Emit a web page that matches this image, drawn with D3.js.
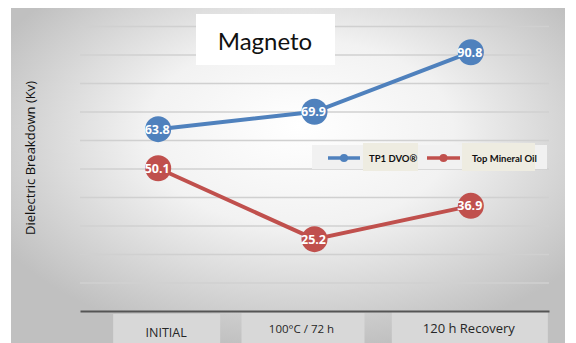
<!DOCTYPE html>
<html>
<head>
<meta charset="utf-8">
<script src="https://cdn.jsdelivr.net/npm/d3@7"></script>
<style>
  html, body { margin: 0; padding: 0; background: #ffffff; }
  svg { display: block; }
</style>
</head>
<body>
<svg id="chart" width="576" height="343"></svg>
<script>
// Chart data
const categories = ["INITIAL", "100°C / 72 h", "120 h Recovery"];
const seriesNames = ["TP1 DVO®", "Top Mineral Oil"];
const tp1Values = [63.8, 69.9, 90.8];
const mineralValues = [50.1, 25.2, 36.9];
const gridTicks = [0, 10, 20, 30, 40, 50, 60, 70, 80, 90, 100];

const colors = { "TP1 DVO®": "#4f81bd", "Top Mineral Oil": "#c0504d" };
const series = [
  { name: seriesNames[0], values: tp1Values },
  { name: seriesNames[1], values: mineralValues }
];

const svg = d3.select("#chart");
const W = 576, H = 343;
const plot = { left: 80, right: 549, top: 26, bottom: 311 };
const font = "Lato, 'Open Sans', sans-serif";
const sans = "'Open Sans', Lato, sans-serif";

// Panel background with soft radial shading
const defs = svg.append("defs");
const rg = defs.append("radialGradient")
  .attr("id", "bg").attr("cx", "52%").attr("cy", "40%").attr("r", "62%")
  .attr("fx", "52%").attr("fy", "35%");
rg.append("stop").attr("offset", "0%").attr("stop-color", "#ffffff");
rg.append("stop").attr("offset", "45%").attr("stop-color", "#f2f2f2");
rg.append("stop").attr("offset", "100%").attr("stop-color", "#c0c0c0");

svg.append("rect").attr("x", 11).attr("y", 8).attr("width", 554).attr("height", H - 8)
  .attr("fill", "url(#bg)");

// Scales
const x = d3.scaleBand().domain(categories).range([plot.left, plot.right]);
const y = d3.scaleLinear().domain([0, 100]).range([plot.bottom, plot.top]);
const cx = d => x(d) + x.bandwidth() / 2;

// Horizontal gridlines
svg.append("g")
  .attr("transform", `translate(${plot.left},0)`)
  .call(d3.axisLeft(y).tickValues(gridTicks.slice(1)).tickSize(-(plot.right - plot.left)).tickFormat(""))
  .call(g => g.select(".domain").remove())
  .call(g => g.selectAll("line").attr("stroke", "#d0d0d0").attr("stroke-width", 1.5));

// Category label boxes beneath the axis
const boxSpec = [
  { dx: -45, w: 107, top: 314 },
  { dx: -73, w: 123, top: 313 },
  { dx: -79, w: 156, top: 312 }
];
const catG = svg.append("g");
categories.forEach((c, i) => {
  const b = boxSpec[i];
  catG.append("rect").attr("x", cx(c) + b.dx).attr("y", b.top)
    .attr("width", b.w).attr("height", H - b.top).attr("fill", "#d8d8d8");
});
const labelDx = [8, -13, -2];
const labelY = [337, 333, 333];
const labelSize = [12.5, 11.5, 13];
categories.forEach((c, i) => {
  catG.append("text").attr("x", cx(c) + labelDx[i]).attr("y", labelY[i])
    .attr("text-anchor", "middle").attr("font-family", sans)
    .attr("font-size", labelSize[i]).attr("fill", "#262626").text(c);
});

// Horizontal axis line
svg.append("g")
  .attr("transform", `translate(0,${plot.bottom})`)
  .call(d3.axisBottom(x).tickSize(0).tickFormat(""))
  .call(g => g.select(".domain").attr("stroke", "#555555").attr("stroke-width", 2));

// Y axis title
svg.append("text")
  .attr("transform", `translate(35,158) rotate(-90)`)
  .attr("text-anchor", "middle").attr("font-family", sans)
  .attr("font-size", 13).attr("fill", "#111").text("Dielectric Breakdown (Kv)");

// Title box
svg.append("rect").attr("x", 196).attr("y", 14).attr("width", 139).attr("height", 51).attr("fill", "#ffffff");
svg.append("text").attr("x", 265).attr("y", 50).attr("text-anchor", "middle")
  .attr("font-family", font).attr("font-size", 24).attr("fill", "#111").text("Magneto");

// Legend
const lg = svg.append("g");
lg.append("rect").attr("x", 312).attr("y", 145).attr("width", 235).attr("height", 24).attr("fill", "#f1f1f1");
lg.append("rect").attr("x", 363).attr("y", 143).attr("width", 55).attr("height", 28).attr("fill", "#eeece1");
lg.append("rect").attr("x", 462).attr("y", 143).attr("width", 73).attr("height", 28).attr("fill", "#eeece1");
const legendItems = [
  { name: seriesNames[0], x1: 328, x2: 360, tx: 369 },
  { name: seriesNames[1], x1: 427, x2: 460, tx: 472 }
];
legendItems.forEach(it => {
  lg.append("line").attr("x1", it.x1).attr("x2", it.x2).attr("y1", 158).attr("y2", 158)
    .attr("stroke", colors[it.name]).attr("stroke-width", 3.5);
  lg.append("circle").attr("cx", (it.x1 + it.x2) / 2).attr("cy", 158).attr("r", 4)
    .attr("fill", colors[it.name]);
  lg.append("text").attr("x", it.tx).attr("y", 161.5).attr("font-family", font)
    .attr("font-weight", "bold").attr("font-size", 9.5).attr("fill", "#111").text(it.name);
});

// Series lines and markers
const line = d3.line().x((d, i) => cx(categories[i])).y(d => y(d));
series.forEach(s => {
  const g = svg.append("g");
  g.append("path").datum(s.values).attr("d", line).attr("fill", "none")
    .attr("stroke", colors[s.name]).attr("stroke-width", 4);
  g.selectAll("circle").data(s.values).join("circle")
    .attr("cx", (d, i) => cx(categories[i])).attr("cy", d => y(d)).attr("r", 13)
    .attr("fill", colors[s.name]);
  g.selectAll("text").data(s.values).join("text")
    .attr("x", (d, i) => cx(categories[i]) - 1).attr("y", d => y(d) + 4.5)
    .attr("text-anchor", "middle").attr("font-family", sans).attr("font-weight", "bold")
    .attr("font-size", 12.5).attr("fill", "#ffffff").text(d => d.toFixed(1));
});
</script>
</body>
</html>
